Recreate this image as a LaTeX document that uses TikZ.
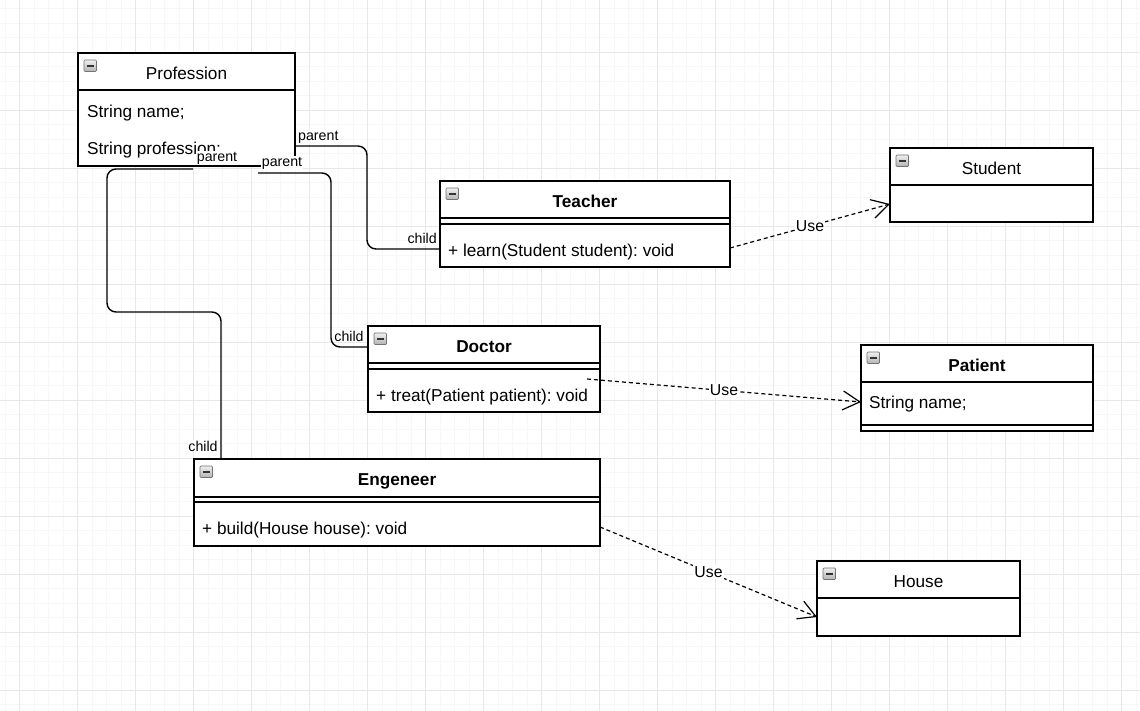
\documentclass[tikz,border=0pt]{standalone}
\usepackage{fontspec}
\setmainfont{Liberation Sans}
\usetikzlibrary{arrows.meta,calc}
\frenchspacing
\tikzset{
 x=1pt,y=-1pt,
 umlbox/.style={draw, line width=1.4pt, inner sep=0pt, outer sep=0pt, anchor=north west, fill=white},
 hdr/.style={draw, line width=1.4pt, inner sep=0pt, outer sep=0pt, anchor=north west, text height=15.5pt, text depth=0pt, font=\fontsize{17.2}{20}\selectfont},
 hdrb/.style={hdr, font=\fontsize{17.2}{20}\selectfont\bfseries},
 member/.style={inner sep=0pt, anchor=west, font=\fontsize{17.2}{20}\selectfont},
 sepline/.style={line width=1.4pt},
 conn/.style={line width=1.4pt, rounded corners=9pt},
 usearrow/.style={line width=1.2pt, dash pattern=on 4pt off 3pt, -{Straight Barb[length=17pt,width=19pt]}},
 elabel/.style={fill=white, inner sep=1pt, font=\fontsize{14.2}{16}\selectfont},
 uselabel/.style={fill=white, inner sep=1pt, font=\fontsize{15.8}{18}\selectfont},
 minorgrid/.style={draw=black!3, line width=0.6pt},
 majorgrid/.style={draw=black!9, line width=0.7pt},
 collapse/.pic={
   \draw[draw=black!55, top color=black!6, bottom color=black!30, rounded corners=1pt, line width=0.7pt] (0,0) rectangle (12.5,11.5);
   \draw[line width=2pt, black!80] (3,5.8) -- (9.5,5.8);
 }
}
\begin{document}
\begin{tikzpicture}
\useasboundingbox (0,0) rectangle (1140,711);
\fill[white] (0,0) rectangle (1140,711);
% grid
\foreach \i in {0,...,78} \draw[minorgrid] ({5+14.5*\i},0) -- ++(0,711);
\foreach \i in {0,...,48} \draw[minorgrid] (0,{8.5+14.5*\i}) -- ++(1140,0);
\foreach \i in {0,...,19} \draw[majorgrid] ({19.5+58*\i},0) -- ++(0,711);
\foreach \i in {1,...,12} \draw[majorgrid] (0,{-6+58*\i}) -- ++(1140,0);

% Profession
\node[umlbox, minimum width=217pt, minimum height=113pt] (prof) at (78,53) {};
\node[hdr, minimum width=217pt, minimum height=37pt] (profH) at (prof.north west) {Profession};
\pic at ([xshift=6pt,yshift=-7pt]prof.north west) {collapse};
\node[member] (profA1) at ([xshift=9pt,yshift=-60pt]prof.north west) {String name;};
\node[member] (profA2) at ([xshift=9pt,yshift=-97pt]prof.north west) {String profession;};

% Teacher
\node[umlbox, minimum width=290pt, minimum height=86pt] (teacher) at (440,181) {};
\node[hdrb, minimum width=290pt, minimum height=37pt] (teacherH) at (teacher.north west) {Teacher};
\pic at ([xshift=6pt,yshift=-7pt]teacher.north west) {collapse};
\draw[sepline] ([yshift=-43pt]teacher.north west) -- ([yshift=-43pt]teacher.north east);
\node[member] (teacherM) at ([xshift=8pt,yshift=-71pt]teacher.north west) {+ learn(Student student): void};

% Student
\node[umlbox, minimum width=203pt, minimum height=74pt] (student) at (890,148) {};
\node[hdr, minimum width=203pt, minimum height=37pt] (studentH) at (student.north west) {Student};
\pic at ([xshift=6pt,yshift=-7pt]student.north west) {collapse};

% Doctor
\node[umlbox, minimum width=232pt, minimum height=86pt] (doctor) at (368,326) {};
\node[hdrb, minimum width=232pt, minimum height=37pt] (doctorH) at (doctor.north west) {Doctor};
\pic at ([xshift=6pt,yshift=-7pt]doctor.north west) {collapse};
\draw[sepline] ([yshift=-43pt]doctor.north west) -- ([yshift=-43pt]doctor.north east);
\node[member] (doctorM) at ([xshift=8pt,yshift=-71pt]doctor.north west) {+ treat(Patient patient): void};

% Patient
\node[umlbox, minimum width=232pt, minimum height=86pt] (patient) at (861,345) {};
\node[hdrb, minimum width=232pt, minimum height=37pt] (patientH) at (patient.north west) {Patient};
\pic at ([xshift=6pt,yshift=-7pt]patient.north west) {collapse};
\node[member] (patientA) at ([xshift=8pt,yshift=-59pt]patient.north west) {String name;};
\draw[sepline] ([yshift=-80pt]patient.north west) -- ([yshift=-80pt]patient.north east);

% Engeneer
\node[umlbox, minimum width=406pt, minimum height=87pt] (eng) at (194,459) {};
\node[hdrb, minimum width=406pt, minimum height=38pt] (engH) at (eng.north west) {Engeneer};
\pic at ([xshift=6pt,yshift=-7pt]eng.north west) {collapse};
\draw[sepline] ([yshift=-43pt]eng.north west) -- ([yshift=-43pt]eng.north east);
\node[member] (engM) at ([xshift=8pt,yshift=-71pt]eng.north west) {+ build(House house): void};

% House
\node[umlbox, minimum width=203pt, minimum height=75pt] (house) at (817,561) {};
\node[hdr, minimum width=203pt, minimum height=37pt] (houseH) at (house.north west) {House};
\pic at ([xshift=6pt,yshift=-7pt]house.north west) {collapse};

% connector start points just under Profession (hidden behind their labels)
\coordinate (s2) at ([xshift=180pt,yshift=-7pt]prof.south west);
\coordinate (s3) at ([xshift=115pt,yshift=-3pt]prof.south west);

% inheritance connectors
\draw[conn] ([yshift=-93pt]prof.north east) -- ++(72,0) |- ([yshift=-68pt]teacher.north west);
\draw[conn] (s2) -- ++(73,0) |- ([yshift=-21pt]doctor.north west);
\draw[conn] (s3) -| ++(-86,143) -| ([xshift=27pt]eng.north west);

% use connectors
\draw[usearrow] ([yshift=-67pt]teacher.north east) -- node[uselabel] (u1) {Use} ([yshift=-56pt]student.north west);
\draw[usearrow] ([xshift=-13pt,yshift=-53pt]doctor.north east) -- node[uselabel] (u2) {Use} ([yshift=-57pt]patient.north west);
\draw[usearrow] ([yshift=-68pt]eng.north east) -- node[uselabel] (u3) {Use} ([yshift=-56pt]house.north west);

% edge labels
\node[elabel, anchor=west] (l1p) at ([xshift=2pt,yshift=-84pt]prof.north east) {parent};
\node[elabel, anchor=east] (l1c) at ([xshift=-2pt,yshift=-57pt]teacher.north west) {child};
\node[elabel] (l2p) at ([xshift=204pt,yshift=3pt]prof.south west) {parent};
\node[elabel] (l2c) at ([xshift=-19pt,yshift=-10pt]doctor.north west) {child};
\node[elabel] (l3p) at ([xshift=139pt,yshift=8pt]prof.south west) {parent};
\node[elabel] (l3c) at ([xshift=9pt,yshift=13pt]eng.north west) {child};
\end{tikzpicture}
\end{document}
